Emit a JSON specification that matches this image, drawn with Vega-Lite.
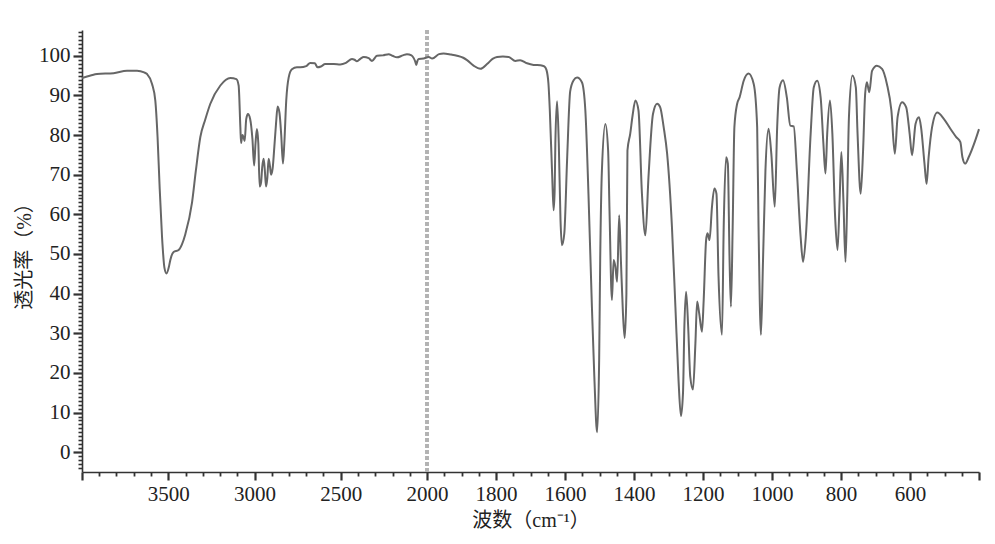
{
  "$schema": "https://vega.github.io/schema/vega-lite/v6.json",
  "autosize": {"type": "none"},
  "padding": {"left": 82, "top": 30, "right": 16, "bottom": 72},
  "width": 897,
  "height": 442,
  "config": {
    "view": {"stroke": null},
    "axis": {
      "grid": false,
      "domainColor": "#333333",
      "domainWidth": 1.6,
      "tickColor": "#333333",
      "labelFont": "Liberation Serif",
      "labelFontSize": 21,
      "labelColor": "#222222",
      "titleFont": "Liberation Serif, Noto Sans CJK SC",
      "titleFontSize": 20,
      "titleFontWeight": "normal",
      "titleColor": "#222222",
      "labelOverlap": false,
      "labelFlush": false,
      "labelBound": false,
      "tickCount": 1000
    }
  },
  "data": {
    "values": [
      {"wn": 4000, "t": 94.4}, {"wn": 3950, "t": 95.0}, {"wn": 3913, "t": 95.4}, {"wn": 3817, "t": 95.6},
      {"wn": 3739, "t": 96.2}, {"wn": 3681, "t": 96.2}, {"wn": 3640, "t": 95.8}, {"wn": 3623, "t": 95.4},
      {"wn": 3594, "t": 92.9}, {"wn": 3575, "t": 88.7}, {"wn": 3562, "t": 79.5}, {"wn": 3550, "t": 66.9},
      {"wn": 3536, "t": 54.3}, {"wn": 3522, "t": 46.5}, {"wn": 3510, "t": 45.1}, {"wn": 3495, "t": 47.0},
      {"wn": 3488, "t": 48.5}, {"wn": 3469, "t": 50.5}, {"wn": 3440, "t": 51.0}, {"wn": 3420, "t": 52.5},
      {"wn": 3401, "t": 55.0}, {"wn": 3362, "t": 63.0}, {"wn": 3340, "t": 71.0}, {"wn": 3314, "t": 79.5},
      {"wn": 3285, "t": 84.0}, {"wn": 3256, "t": 87.9}, {"wn": 3198, "t": 92.5}, {"wn": 3140, "t": 94.4},
      {"wn": 3105, "t": 94.1}, {"wn": 3092, "t": 92.5}, {"wn": 3082, "t": 82.0}, {"wn": 3078, "t": 78.0},
      {"wn": 3070, "t": 80.0}, {"wn": 3064, "t": 79.5}, {"wn": 3057, "t": 78.5}, {"wn": 3048, "t": 84.0},
      {"wn": 3038, "t": 85.3}, {"wn": 3025, "t": 84.0}, {"wn": 3012, "t": 79.0}, {"wn": 3002, "t": 72.3},
      {"wn": 2994, "t": 78.0}, {"wn": 2986, "t": 81.5}, {"wn": 2978, "t": 78.0}, {"wn": 2970, "t": 67.0},
      {"wn": 2962, "t": 68.0}, {"wn": 2955, "t": 72.0}, {"wn": 2947, "t": 74.0}, {"wn": 2940, "t": 71.0},
      {"wn": 2933, "t": 67.0}, {"wn": 2926, "t": 69.0}, {"wn": 2918, "t": 74.0}, {"wn": 2910, "t": 72.0},
      {"wn": 2904, "t": 70.0}, {"wn": 2895, "t": 71.5}, {"wn": 2885, "t": 77.0}, {"wn": 2875, "t": 83.0},
      {"wn": 2866, "t": 87.2}, {"wn": 2855, "t": 85.5}, {"wn": 2845, "t": 80.0}, {"wn": 2835, "t": 72.8},
      {"wn": 2827, "t": 78.0}, {"wn": 2816, "t": 88.7}, {"wn": 2802, "t": 94.5}, {"wn": 2783, "t": 96.6},
      {"wn": 2754, "t": 97.1}, {"wn": 2735, "t": 97.1}, {"wn": 2700, "t": 97.4}, {"wn": 2677, "t": 98.2},
      {"wn": 2650, "t": 98.1}, {"wn": 2635, "t": 97.1}, {"wn": 2615, "t": 97.3}, {"wn": 2590, "t": 97.9},
      {"wn": 2540, "t": 97.9}, {"wn": 2503, "t": 97.8}, {"wn": 2470, "t": 98.2}, {"wn": 2435, "t": 99.2},
      {"wn": 2420, "t": 99.0}, {"wn": 2406, "t": 98.6}, {"wn": 2385, "t": 99.3}, {"wn": 2367, "t": 99.7},
      {"wn": 2338, "t": 99.4}, {"wn": 2319, "t": 98.7}, {"wn": 2290, "t": 100.0}, {"wn": 2255, "t": 100.1},
      {"wn": 2222, "t": 100.4}, {"wn": 2200, "t": 100.0}, {"wn": 2174, "t": 99.6}, {"wn": 2140, "t": 100.1},
      {"wn": 2116, "t": 100.4}, {"wn": 2090, "t": 100.1}, {"wn": 2077, "t": 99.4}, {"wn": 2068, "t": 98.5},
      {"wn": 2062, "t": 97.7}, {"wn": 2055, "t": 98.8}, {"wn": 2048, "t": 99.2}, {"wn": 2020, "t": 99.3},
      {"wn": 1995, "t": 99.7}, {"wn": 1985, "t": 99.3}, {"wn": 1965, "t": 100.4}, {"wn": 1952, "t": 100.6},
      {"wn": 1930, "t": 100.3}, {"wn": 1913, "t": 100.0}, {"wn": 1895, "t": 99.5}, {"wn": 1884, "t": 98.9},
      {"wn": 1865, "t": 97.5}, {"wn": 1845, "t": 96.7}, {"wn": 1826, "t": 97.9}, {"wn": 1810, "t": 99.2},
      {"wn": 1797, "t": 99.7}, {"wn": 1780, "t": 99.8}, {"wn": 1763, "t": 99.7}, {"wn": 1744, "t": 98.7},
      {"wn": 1730, "t": 98.9}, {"wn": 1710, "t": 98.1}, {"wn": 1691, "t": 97.7}, {"wn": 1671, "t": 97.6},
      {"wn": 1660, "t": 97.3}, {"wn": 1654, "t": 96.5}, {"wn": 1648, "t": 93.0}, {"wn": 1644, "t": 86.2},
      {"wn": 1637, "t": 69.4}, {"wn": 1633, "t": 61.0}, {"wn": 1630, "t": 66.0}, {"wn": 1628, "t": 77.8},
      {"wn": 1623, "t": 88.5}, {"wn": 1618, "t": 77.8}, {"wn": 1613, "t": 58.5}, {"wn": 1609, "t": 52.2},
      {"wn": 1602, "t": 55.2}, {"wn": 1594, "t": 73.6}, {"wn": 1585, "t": 91.0}, {"wn": 1575, "t": 93.8},
      {"wn": 1565, "t": 94.5}, {"wn": 1551, "t": 93.3}, {"wn": 1541, "t": 86.2}, {"wn": 1532, "t": 65.2},
      {"wn": 1522, "t": 36.7}, {"wn": 1515, "t": 19.1}, {"wn": 1507, "t": 5.0}, {"wn": 1501, "t": 23.3},
      {"wn": 1498, "t": 48.5}, {"wn": 1493, "t": 71.1}, {"wn": 1483, "t": 82.8}, {"wn": 1475, "t": 76.1},
      {"wn": 1471, "t": 61.0}, {"wn": 1464, "t": 38.4}, {"wn": 1459, "t": 48.5}, {"wn": 1454, "t": 46.8},
      {"wn": 1449, "t": 43.0}, {"wn": 1443, "t": 59.8}, {"wn": 1438, "t": 48.5}, {"wn": 1432, "t": 35.0},
      {"wn": 1427, "t": 28.8}, {"wn": 1422, "t": 40.1}, {"wn": 1419, "t": 76.1}, {"wn": 1411, "t": 80.3},
      {"wn": 1404, "t": 85.0}, {"wn": 1396, "t": 88.7}, {"wn": 1387, "t": 86.2}, {"wn": 1377, "t": 65.2},
      {"wn": 1367, "t": 54.7}, {"wn": 1358, "t": 69.4}, {"wn": 1345, "t": 85.3}, {"wn": 1333, "t": 87.9},
      {"wn": 1324, "t": 87.0}, {"wn": 1314, "t": 82.0}, {"wn": 1304, "t": 75.3}, {"wn": 1290, "t": 56.8},
      {"wn": 1280, "t": 36.7}, {"wn": 1271, "t": 18.3}, {"wn": 1264, "t": 9.1}, {"wn": 1258, "t": 14.9},
      {"wn": 1254, "t": 31.7}, {"wn": 1249, "t": 40.5}, {"wn": 1243, "t": 31.7}, {"wn": 1237, "t": 19.1},
      {"wn": 1229, "t": 15.8}, {"wn": 1222, "t": 27.5}, {"wn": 1217, "t": 38.0}, {"wn": 1211, "t": 35.0},
      {"wn": 1203, "t": 30.4}, {"wn": 1198, "t": 38.4}, {"wn": 1191, "t": 53.5}, {"wn": 1187, "t": 55.2},
      {"wn": 1181, "t": 53.5}, {"wn": 1174, "t": 61.9}, {"wn": 1167, "t": 66.5}, {"wn": 1161, "t": 65.2},
      {"wn": 1155, "t": 44.3}, {"wn": 1145, "t": 29.6}, {"wn": 1140, "t": 56.8}, {"wn": 1133, "t": 74.4},
      {"wn": 1128, "t": 72.8}, {"wn": 1123, "t": 48.5}, {"wn": 1119, "t": 36.7}, {"wn": 1114, "t": 56.8},
      {"wn": 1109, "t": 82.0}, {"wn": 1101, "t": 87.9}, {"wn": 1094, "t": 89.5}, {"wn": 1082, "t": 93.7},
      {"wn": 1068, "t": 95.5}, {"wn": 1053, "t": 92.9}, {"wn": 1043, "t": 82.0}, {"wn": 1039, "t": 56.8},
      {"wn": 1032, "t": 29.6}, {"wn": 1026, "t": 48.5}, {"wn": 1019, "t": 71.1}, {"wn": 1010, "t": 81.6},
      {"wn": 1002, "t": 75.3}, {"wn": 992, "t": 61.9}, {"wn": 985, "t": 82.0}, {"wn": 978, "t": 92.0},
      {"wn": 968, "t": 93.8}, {"wn": 957, "t": 89.5}, {"wn": 947, "t": 82.4}, {"wn": 937, "t": 82.2},
      {"wn": 928, "t": 71.1}, {"wn": 917, "t": 54.3}, {"wn": 910, "t": 48.0}, {"wn": 902, "t": 54.3},
      {"wn": 888, "t": 80.3}, {"wn": 879, "t": 92.0}, {"wn": 869, "t": 93.7}, {"wn": 859, "t": 89.5},
      {"wn": 851, "t": 77.8}, {"wn": 845, "t": 70.3}, {"wn": 840, "t": 80.3}, {"wn": 832, "t": 88.7},
      {"wn": 825, "t": 80.3}, {"wn": 817, "t": 59.3}, {"wn": 810, "t": 51.0}, {"wn": 804, "t": 63.5},
      {"wn": 799, "t": 75.7}, {"wn": 793, "t": 63.5}, {"wn": 787, "t": 48.0}, {"wn": 782, "t": 63.5},
      {"wn": 777, "t": 84.5}, {"wn": 767, "t": 95.0}, {"wn": 757, "t": 92.0}, {"wn": 752, "t": 80.3},
      {"wn": 743, "t": 65.2}, {"wn": 736, "t": 76.1}, {"wn": 730, "t": 90.4}, {"wn": 725, "t": 93.3},
      {"wn": 718, "t": 90.8}, {"wn": 710, "t": 96.2}, {"wn": 696, "t": 97.5}, {"wn": 681, "t": 96.7},
      {"wn": 667, "t": 92.9}, {"wn": 654, "t": 86.2}, {"wn": 644, "t": 75.3}, {"wn": 636, "t": 84.5},
      {"wn": 623, "t": 88.3}, {"wn": 611, "t": 87.0}, {"wn": 601, "t": 80.3}, {"wn": 594, "t": 74.9},
      {"wn": 584, "t": 82.8}, {"wn": 574, "t": 84.5}, {"wn": 568, "t": 82.0}, {"wn": 558, "t": 72.8},
      {"wn": 552, "t": 67.7}, {"wn": 546, "t": 74.4}, {"wn": 536, "t": 82.0}, {"wn": 521, "t": 85.7},
      {"wn": 502, "t": 84.1}, {"wn": 483, "t": 81.6}, {"wn": 466, "t": 79.5}, {"wn": 454, "t": 78.2},
      {"wn": 448, "t": 74.4}, {"wn": 440, "t": 72.8}, {"wn": 430, "t": 74.4}, {"wn": 411, "t": 78.6},
      {"wn": 400, "t": 81.5}
    ]
  },
  "layer": [
    {
      "mark": {"type": "rule", "color": "#b3b3b3", "strokeWidth": 2.5, "strokeDash": [4, 2]},
      "encoding": {
        "x": {"datum": 2000, "type": "quantitative"}
      }
    },
    {
      "mark": {"type": "line", "color": "#666666", "strokeWidth": 2, "interpolate": "monotone"},
      "encoding": {
        "x": {
          "field": "wn",
          "type": "quantitative",
          "scale": {"domain": [4000, 2000, 400], "range": [0, 345, 897], "nice": false, "zero": false},
          "axis": {
            "title": "波数（cm⁻¹）",
            "values": [4000, 3900, 3800, 3700, 3600, 3500, 3400, 3300, 3200, 3100, 3000, 2900, 2800, 2700, 2600, 2500, 2400, 2300, 2200, 2100, 2000,
                       1950, 1900, 1850, 1800, 1750, 1700, 1650, 1600, 1550, 1500, 1450, 1400, 1350, 1300, 1250, 1200, 1150, 1100, 1050, 1000,
                       950, 900, 850, 800, 750, 700, 650, 600, 550, 500, 450, 400],
            "format": "d",
            "labelExpr": "(datum.value == 4000 || datum.value == 400) ? '' : (((datum.value > 2000 && datum.value % 500 == 0) || (datum.value <= 2000 && datum.value % 200 == 0)) ? datum.label : '')",
            "tickSize": {"condition": {"test": "(datum.value > 2000 && datum.value % 500 == 0) || (datum.value <= 2000 && datum.value % 200 == 0)", "value": 8}, "value": 4},
            "tickWidth": {"condition": {"test": "(datum.value > 2000 && datum.value % 500 == 0) || (datum.value <= 2000 && datum.value % 200 == 0)", "value": 2.2}, "value": 1.8},
            "labelPadding": 3,
            "titlePadding": 6
          }
        },
        "y": {
          "field": "t",
          "type": "quantitative",
          "scale": {"domain": [-5, 106.5], "nice": false, "zero": false},
          "axis": {
            "title": "透光率（%）",
            "values": [-4, -3, -2, -1, 0, 1, 2, 3, 4, 5, 6, 7, 8, 9, 10, 11, 12, 13, 14, 15, 16, 17, 18, 19, 20, 21, 22, 23, 24, 25, 26, 27, 28, 29, 30,
                       31, 32, 33, 34, 35, 36, 37, 38, 39, 40, 41, 42, 43, 44, 45, 46, 47, 48, 49, 50, 51, 52, 53, 54, 55, 56, 57, 58, 59, 60,
                       61, 62, 63, 64, 65, 66, 67, 68, 69, 70, 71, 72, 73, 74, 75, 76, 77, 78, 79, 80, 81, 82, 83, 84, 85, 86, 87, 88, 89, 90,
                       91, 92, 93, 94, 95, 96, 97, 98, 99, 100, 101, 102, 103, 104, 105, 106],
            "format": "d",
            "labelExpr": "(datum.value % 10 == 0 && datum.value >= 0 && datum.value <= 100) ? datum.label : ''",
            "tickSize": {"condition": {"test": "datum.value % 10 == 0", "value": 9}, "value": 4},
            "tickWidth": {"condition": {"test": "datum.value % 10 == 0", "value": 2.2}, "value": 1.6},
            "labelPadding": 3,
            "titlePadding": 4
          }
        }
      }
    }
  ]
}
